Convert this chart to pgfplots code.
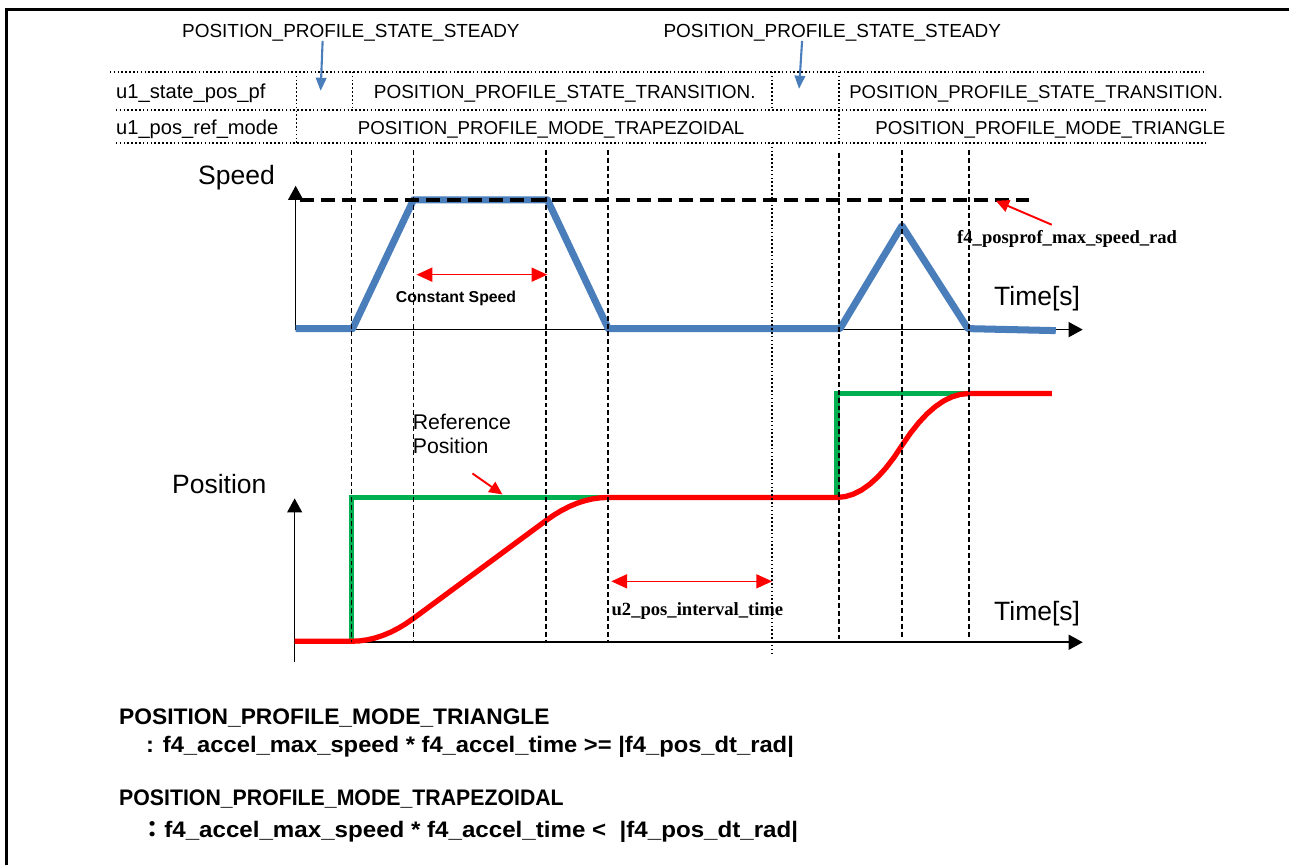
\documentclass[border=0pt]{standalone}
\usepackage{pgfplots}
\pgfplotsset{compat=1.18}
\usepackage{graphicx}
\usepackage{fontspec}
\setmainfont{Liberation Sans}
\newfontfamily\serifb{Liberation Serif}
\newfontfamily\cjk{Noto Sans CJK JP}
\usetikzlibrary{arrows.meta}

\definecolor{spdblue}{HTML}{4A7EBB}
\definecolor{posred}{HTML}{FF0000}
\definecolor{posgreen}{HTML}{00B050}

% sizes (1px of the reference = 0.569pt)
\newcommand{\fsTab}{\fontsize{10.8}{13}\selectfont}
\newcommand{\fsBig}{\fontsize{15.1}{18}\selectfont}
\newcommand{\fsRef}{\fontsize{12.1}{13.7}\selectfont}
\newcommand{\fsCS}{\fontsize{9}{11}\selectfont\bfseries}
\newcommand{\fsTimes}{\fontsize{10.6}{12}\selectfont\serifb\bfseries}
\newcommand{\fsBot}{\fontsize{12.8}{15}\selectfont\bfseries}

\tikzset{
  axarrow/.style={black, line width=0.9pt, -{Triangle[length=8pt,width=8.5pt]}},
  redarrow/.style={posred, line width=0.9pt, {Triangle[length=9pt,width=8pt]}-{Triangle[length=9pt,width=8pt]}},
  redpoint/.style={posred, line width=1.1pt, -{Triangle[length=7.5pt,width=7pt]}},
  bluepoint/.style={spdblue, line width=1.2pt, -{Triangle[length=7.5pt,width=6pt]}},
  txt/.style={anchor=base west, inner sep=0pt},
}

\begin{document}
\begin{tikzpicture}
\begin{axis}[
    scale only axis,
    width=25.8cm, height=17.32cm,
    xmin=0, xmax=1290, ymin=0, ymax=866,
    y dir=reverse,
    hide axis,
    clip=false,
]
\path (axis cs:0,0) rectangle (axis cs:1290,866);

% frame (left and top)
\addplot[black, line width=1.7pt] coordinates {(7,866) (7,10) (1290,10)};

% ---- state table ----
\addplot[black, line width=1pt, dash pattern=on 0.9pt off 1.3pt] coordinates {(110,72) (1207,72)};
\addplot[black, line width=1pt, dash pattern=on 0.9pt off 1.3pt] coordinates {(116,110) (1207,110)};
\addplot[black, line width=1pt, dash pattern=on 0.9pt off 1.3pt] coordinates {(116,143) (1207,143)};
\addplot[black, line width=0.8pt, dash pattern=on 0.9pt off 1.3pt] coordinates {(297,72) (297,143)};
\addplot[black, line width=0.8pt, dash pattern=on 0.9pt off 1.3pt] coordinates {(353,72) (353,110)};
\addplot[black, line width=0.8pt, dash pattern=on 0.9pt off 1.3pt] coordinates {(773,72) (773,110)};
\addplot[black, line width=0.8pt, dash pattern=on 0.9pt off 1.3pt] coordinates {(840,72) (840,143)};

\node[txt, font=\fsTab] at (axis cs:182,38) {POSITION\_PROFILE\_STATE\_STEADY};
\node[txt, font=\fsTab] at (axis cs:664,38) {POSITION\_PROFILE\_STATE\_STEADY};
\draw[bluepoint] (axis cs:323,41) -- (axis cs:321,91);
\draw[bluepoint] (axis cs:803,41) -- (axis cs:800,89);

\node[txt, font=\fontsize{11.5}{13}\selectfont] at (axis cs:116,99) {u1\_state\_pos\_pf};
\node[txt, font=\fsTab] at (axis cs:374,99) {POSITION\_PROFILE\_STATE\_TRANSITION.};
\node[txt, font=\fontsize{10.57}{13}\selectfont] at (axis cs:850,99) {POSITION\_PROFILE\_STATE\_TRANSITION.};
\node[txt, font=\fontsize{11.45}{13}\selectfont] at (axis cs:116,135) {u1\_pos\_ref\_mode};
\node[txt, font=\fontsize{10.65}{13}\selectfont] at (axis cs:358,135) {POSITION\_PROFILE\_MODE\_TRAPEZOIDAL};
\node[txt, font=\fontsize{10.65}{13}\selectfont] at (axis cs:876,135) {POSITION\_PROFILE\_MODE\_TRIANGLE};

% ---- speed profile ----
\draw[axarrow] (axis cs:296,330) -- (axis cs:296,186);
\draw[axarrow] (axis cs:296,330) -- (axis cs:1084,330);
\addplot[spdblue, line width=4pt, line join=round] coordinates {
    (296,329) (353,329) (414,200) (548,200) (609,329)
    (841,329) (903,226) (969,329) (1057,331)
};
\addplot[black, line width=2pt, dash pattern=on 8pt off 4pt] coordinates {(300,200) (1030,200)};

% ---- position profile ----
\draw[axarrow] (axis cs:295,663) -- (axis cs:295,499);
\draw[axarrow] (axis cs:295,643) -- (axis cs:1084,643);
\addplot[posgreen, line width=3pt, line join=miter] coordinates {
    (352,642) (352,498) (838,498) (838,394) (1053,394)
};
\addplot[posred, line width=3pt, line join=round] coordinates {
    (295,642) (352,642)
    (359.75,641.64) (367.5,640.57) (375.25,638.78) (383,636.27)
    (390.75,633.05) (398.5,629.12) (406.25,624.47) (414,619.1)
    (547,520.9)
    (554.75,515.53) (562.5,510.88) (570.25,506.95) (578,503.72)
    (585.75,501.22) (593.5,499.43) (601.25,498.36) (609,498)
    (838,498)
    (846.125,497.19) (854.25,494.75) (862.375,490.69) (870.5,485)
    (878.625,477.69) (886.75,468.75) (894.875,458.19) (903,446)
    (911.375,433.81) (919.75,423.25) (928.125,414.31) (936.5,407)
    (944.875,401.31) (953.25,397.25) (961.625,394.81) (970,394)
    (1053,394)
};

% ---- timing lines ----
\addplot[black, line width=1pt, dash pattern=on 2.8pt off 1.7pt] coordinates {(352,150) (352,643)};
\addplot[black, line width=1pt, dash pattern=on 2.8pt off 1.7pt] coordinates {(414,150) (414,643)};
\addplot[black, line width=1pt, dash pattern=on 2.8pt off 1.7pt] coordinates {(547,150) (547,643)};
\addplot[black, line width=1pt, dash pattern=on 2.8pt off 1.7pt] coordinates {(609,150) (609,643)};
\addplot[black, line width=1pt, dash pattern=on 0.9pt off 1.3pt] coordinates {(773,143) (773,655)};
\addplot[black, line width=1pt, dash pattern=on 2.8pt off 1.7pt] coordinates {(840,153) (840,640)};
\addplot[black, line width=1pt, dash pattern=on 2.8pt off 1.7pt] coordinates {(903,150) (903,640)};
\addplot[black, line width=1pt, dash pattern=on 2.8pt off 1.7pt] coordinates {(970,150) (970,640)};

% ---- labels and annotations ----
\node[txt, font=\fsBig] at (axis cs:198,185) {Speed};
\node[txt, font=\fsBig] at (axis cs:172,494) {Position};
\node[txt, font=\fsBig] at (axis cs:995,306) {Time[s]};
\node[txt, font=\fsBig] at (axis cs:995,621) {Time[s]};

\draw[redarrow] (axis cs:417,275) -- (axis cs:548,275);
\node[txt, font=\fsCS] at (axis cs:396,303) {Constant Speed};

\draw[redpoint] (axis cs:1053,225) -- (axis cs:997,201);
\node[txt, font=\fsTimes] at (axis cs:958,244) {f4\_posprof\_max\_speed\_rad};

\node[txt, font=\fsRef] at (axis cs:413,430) {Reference};
\node[txt, font=\fsRef] at (axis cs:413,454) {Position};
\draw[redpoint] (axis cs:473,474) -- (axis cs:503,495);

\draw[redarrow] (axis cs:612,582) -- (axis cs:773,582);
\node[txt, font=\fsTimes] at (axis cs:612,616) {u2\_pos\_interval\_time};

% ---- conditions ----
\node[txt, font=\fsBot] at (axis cs:119,725) {\scalebox{1.014}[1]{POSITION\_PROFILE\_MODE\_TRIANGLE}};
\node[txt, font=\fsBot] at (axis cs:146,753) {\scalebox{1.057}[1]{: f4\_accel\_max\_speed * f4\_accel\_time >= |f4\_pos\_dt\_rad|}};
\node[txt, font=\fsBot] at (axis cs:119,806) {\scalebox{0.947}[1]{POSITION\_PROFILE\_MODE\_TRAPEZOIDAL}};
\node[txt, font=\fsBot] at (axis cs:140,838) {\scalebox{1.074}[1]{{\cjk ：}f4\_accel\_max\_speed * f4\_accel\_time <~ |f4\_pos\_dt\_rad|}};
\end{axis}
\end{tikzpicture}
\end{document}
